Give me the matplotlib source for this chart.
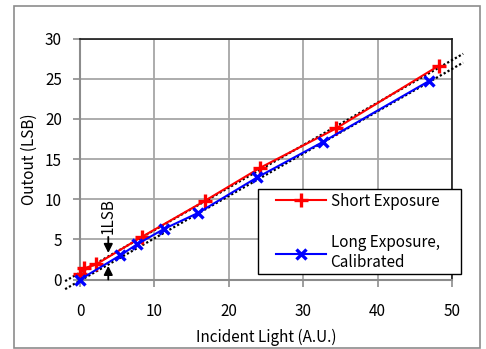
import matplotlib
matplotlib.use("Agg")
import matplotlib.pyplot as plt
from matplotlib.patches import Rectangle

plt.rcParams['font.family'] = ['Noto Sans CJK JP', 'DejaVu Sans']

# data
short_x = [0.0, 0.6, 2.2, 8.3, 16.8, 24.2, 34.4, 48.2]
short_y = [0.7, 1.4, 1.9, 5.3, 9.8, 13.9, 18.8, 26.6]
long_x = [0.0, 5.4, 7.7, 11.3, 15.9, 23.8, 32.6, 46.9]
long_y = [0.0, 3.0, 4.4, 6.3, 8.3, 12.7, 17.1, 24.7]
ref_x = [-2.0, 51.5]
ref_upper = [-0.2, 28.1]
ref_lower = [-1.2, 27.0]
x_ticks = [0, 10, 20, 30, 40, 50]
y_ticks = [0, 5, 10, 15, 20, 25, 30]

fig = plt.figure(figsize=(4.86, 3.49), dpi=100)
fig.patches.append(Rectangle((14/486, 1/349), 466/486, 342/349, transform=fig.transFigure,
                             fill=False, edgecolor='#8c8c8c', linewidth=1.2))
ax = fig.add_axes([80/486, 1-279.5/349, 372/486, 241/349])

ax.set_xlim(0, 50)
ax.set_ylim(0, 30)
ax.set_xticks(x_ticks)
ax.set_yticks(y_ticks)
ax.grid(True, color='#a6a6a6', linewidth=1.3)
ax.set_axisbelow(True)
for s in ['left', 'bottom']:
    ax.spines[s].set_color('#8c8c8c')
    ax.spines[s].set_linewidth(1.5)
for s in ['top', 'right']:
    ax.spines[s].set_color('#1a1a1a')
    ax.spines[s].set_linewidth(1.2)
ax.tick_params(direction='out', length=5, width=1.2, color='#8c8c8c', labelsize=11)
ax.tick_params(axis='x', pad=12)
ax.tick_params(axis='y', pad=8)

ax.plot(ref_x, ref_upper, color='black', linestyle=(0, (1, 1.0)), linewidth=1.6, clip_on=False, zorder=3)
ax.plot(ref_x, ref_lower, color='black', linestyle=(0, (1, 1.0)), linewidth=1.6, clip_on=False, zorder=3)
ax.plot(short_x, short_y, color='red', marker='+', markersize=10, markeredgewidth=2.4,
        linewidth=1.5, clip_on=False, zorder=4, label='Short Exposure')
ax.plot(long_x, long_y, color='blue', marker='x', markersize=7.5, markeredgewidth=2.4,
        linewidth=1.5, clip_on=False, zorder=4, label='Long Exposure,\nCalibrated')

# 1LSB annotation
ax.annotate('', xy=(3.8, 3.3), xytext=(3.8, 5.3),
            arrowprops=dict(arrowstyle='-|>', color='black', lw=1.3, mutation_scale=13,
                            shrinkA=0, shrinkB=0))
ax.annotate('', xy=(3.8, 1.7), xytext=(3.8, 0.0),
            arrowprops=dict(arrowstyle='-|>', color='black', lw=1.3, mutation_scale=13,
                            shrinkA=0, shrinkB=0))
ax.text(3.8, 5.7, '1LSB', rotation=90, ha='center', va='bottom', fontsize=11)

# legend box (drawn separately to match the wide frame)
ax.add_patch(Rectangle((0.478, 0.0228), 0.546, 0.3527, transform=ax.transAxes,
                       facecolor='white', edgecolor='black', linewidth=1.0,
                       clip_on=False, zorder=5))
leg = ax.legend(loc='upper left', bbox_to_anchor=(0.5156, 0.3755), borderaxespad=0,
                frameon=False, fontsize=11, handlelength=3.3, labelspacing=1.6,
                borderpad=0.25, handletextpad=0.3)
leg.set_zorder(6)

ax.set_xlabel('Incident Light (A.U.)', fontsize=11, labelpad=6)
ax.set_ylabel('Outout (LSB)', fontsize=11, labelpad=5)

fig.savefig('out.png', dpi=100)
